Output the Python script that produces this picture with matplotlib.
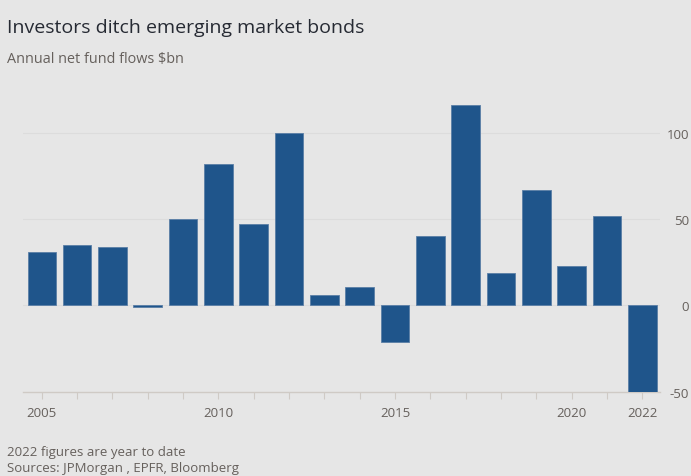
import matplotlib
matplotlib.use("Agg")
import matplotlib.pyplot as plt

years = list(range(2005, 2023))
flows = [31, 35, 34, -1, 50, 82, 47, 100, 6, 11, -21, 40, 116, 19, 67, 23, 52, -50]
xtick_labels = [2005, 2010, 2015, 2020, 2022]
ytick_vals = [-50, 0, 50, 100]

title = "Investors ditch emerging market bonds"
subtitle = "Annual net fund flows $bn"
note1 = "2022 figures are year to date"
note2 = "Sources: JPMorgan , EPFR, Bloomberg"

bg = "#e6e6e6"
bar_col = "#1f558b"
txt_grey = "#66605c"

plt.rcParams['font.family'] = ['Open Sans', 'DejaVu Sans']

fig = plt.figure(figsize=(6.91, 4.77), dpi=100, facecolor=bg)
ax = fig.add_axes([0.0329, 0.1767, 0.9221, 0.6147], facecolor=bg)

ax.bar(years, flows, width=0.81, color=bar_col, edgecolor="#5a7ea6", linewidth=0.6, zorder=3)

ax.set_xlim(2004.46, 2022.5)
ax.set_ylim(-50, 120)

for v in [0, 50, 100]:
    ax.axhline(v, color="#dcdcdc", lw=0.8, zorder=1)

for s in ["top", "left", "right"]:
    ax.spines[s].set_visible(False)
ax.spines["bottom"].set_color("#cfcac5")
ax.spines["bottom"].set_linewidth(1.0)

ax.set_xticks(years, minor=True)
ax.set_xticks(xtick_labels)
ax.set_xticklabels([str(x) for x in xtick_labels])
ax.tick_params(axis="x", which="both", length=5, color="#cfcac5", width=0.8,
               labelcolor=txt_grey, labelsize=9.5, pad=5)

ax.yaxis.tick_right()
ax.set_yticks(ytick_vals)
ax.set_yticklabels([str(v) for v in ytick_vals])
ax.tick_params(axis="y", length=0, labelcolor=txt_grey, labelsize=9.5, pad=21)
for lab in ax.get_yticklabels():
    lab.set_horizontalalignment("right")

fig.text(7/691, 1 - 28/477, title, fontsize=14, color="#262a33", va="center", ha="left")
fig.text(7/691, 1 - 60/477, subtitle, fontsize=10.4, color=txt_grey, va="center", ha="left")
fig.text(7/691, 1 - 453/477, note1, fontsize=9.5, color=txt_grey, va="center", ha="left")
fig.text(7/691, 1 - 469/477, note2, fontsize=9.5, color=txt_grey, va="center", ha="left")

fig.savefig("out.png", dpi=100, facecolor=bg)
